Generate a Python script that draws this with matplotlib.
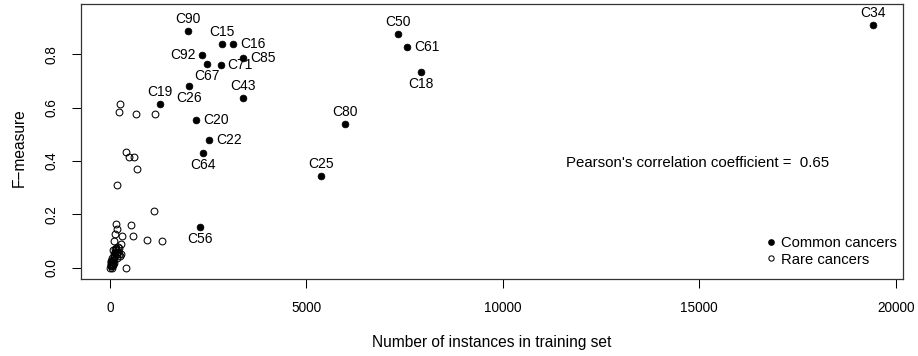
import matplotlib
matplotlib.use("Agg")
import matplotlib.pyplot as plt
from matplotlib.lines import Line2D

plt.rcParams['font.family'] = ['Liberation Sans', 'DejaVu Sans']

# Common cancers (filled, labelled)
common_labels = ["C90", "C15", "C16", "C92", "C67", "C71", "C85", "C26", "C43", "C19",
                 "C20", "C22", "C64", "C80", "C25", "C50", "C61", "C18", "C34", "C56"]
common_x = [1993, 2859, 3131, 2350, 2469, 2817, 3385, 2019, 3394, 1273,
            2189, 2520, 2359, 5974, 5371, 7339, 7568, 7908, 19430, 2291]
common_y = [0.888, 0.8375, 0.840, 0.796, 0.7625, 0.759, 0.785, 0.682, 0.635, 0.615,
            0.5526, 0.4776, 0.431, 0.5376, 0.3438, 0.877, 0.826, 0.735, 0.910, 0.1537]
label_pos = ["top", "top", "right", "left", "bottom", "right", "right", "bottom", "top", "top",
             "right", "right", "bottom", "top", "top", "top", "right", "bottom", "top", "bottom"]

# Rare cancers (open circles)
rare_x = [255, 237, 662, 1153, 415, 491, 611, 695, 170, 1120,
          153, 527, 186, 127, 314, 577, 933, 1315, 102, 272,
          84, 170, 272, 237, 400,
          10, 20, 30, 40, 50, 60, 25, 70, 80, 45, 90, 100, 35, 55, 65,
          110, 120, 75, 85, 15, 130, 150, 95, 105, 140, 160, 200, 240, 180, 210, 250, 170]
rare_y = [0.615, 0.584, 0.577, 0.575, 0.4326, 0.414, 0.414, 0.370, 0.311, 0.2126,
          0.1638, 0.161, 0.145, 0.126, 0.119, 0.120, 0.1027, 0.100, 0.101, 0.0877,
          0.066, 0.060, 0.051, 0.050, 0.0,
          0.0, 0.005, 0.01, 0.0, 0.015, 0.02, 0.025, 0.03, 0.01, 0.035, 0.04, 0.045, 0.02, 0.005, 0.012,
          0.05, 0.055, 0.022, 0.03, 0.012, 0.06, 0.065, 0.028, 0.018, 0.07, 0.072, 0.078, 0.075, 0.05, 0.06, 0.045, 0.035]

x_ticks = [0, 5000, 10000, 15000, 20000]
y_ticks = [0.0, 0.2, 0.4, 0.6, 0.8]
y_tick_labels = ["0.0", "0.2", "0.4", "0.6", "0.8"]
pearson_text = "Pearson's correlation coefficient =  0.65"

fig = plt.figure(figsize=(9.18, 3.56), dpi=100)
ax = fig.add_axes([81 / 918, 1 - 279 / 356, 822 / 918, 275 / 356])

ax.plot(rare_x, rare_y, linestyle="none", marker="o", markersize=4.9,
        markerfacecolor="none", markeredgecolor="black", markeredgewidth=0.75)
ax.plot(common_x, common_y, linestyle="none", marker="o", markersize=4.9,
        markerfacecolor="black", markeredgecolor="black", markeredgewidth=0.5)

offsets = {"top": ((0, 8.6), "center", "center"),
           "bottom": ((0, -8.6), "center", "center"),
           "right": ((5.0, 0), "left", "center"),
           "left": ((-5.0, 0), "right", "center")}
for lab, x, y, p in zip(common_labels, common_x, common_y, label_pos):
    off, ha, va = offsets[p]
    ax.annotate(lab, (x, y), xytext=off, textcoords="offset points",
                ha=ha, va=va, fontsize=10)

ax.text((566 - 81) / 822, (279 - 163.3) / 275, pearson_text, transform=ax.transAxes,
        fontsize=10.8, ha="left", va="center")

handles = [Line2D([], [], linestyle="none", marker="o", markersize=3.8,
                  markerfacecolor="black", markeredgecolor="black"),
           Line2D([], [], linestyle="none", marker="o", markersize=3.8,
                  markerfacecolor="none", markeredgecolor="black", markeredgewidth=0.75)]
ax.legend(handles, ["Common cancers", "Rare cancers"], loc="lower right",
          bbox_to_anchor=((897 - 81) / 822, 0.045), frameon=False, fontsize=10.6,
          handlelength=0.6, handletextpad=0.37, labelspacing=0.2, borderpad=0.0,
          borderaxespad=0.0)

ax.set_xlim(-738, 20185)
ax.set_ylim(-0.0424, 0.9886)
ax.set_xticks(x_ticks)
ax.set_xticklabels([str(t) for t in x_ticks])
ax.set_yticks(y_ticks)
ax.set_yticklabels(y_tick_labels, rotation=90, va="center")
ax.tick_params(axis="both", direction="out", length=6.5, width=0.75, labelsize=9.8, pad=9.5)

for s in ax.spines.values():
    s.set_linewidth(0.9)
    s.set_color("#333333")

fig.text(492 / 918, 1 - 342 / 356, "Number of instances in training set",
         ha="center", va="center", fontsize=11.2)
fig.text(19 / 918, 1 - 148 / 356, "F\u2212measure", rotation=90,
         ha="center", va="center", fontsize=11.2)

fig.savefig("out.png", dpi=100)
